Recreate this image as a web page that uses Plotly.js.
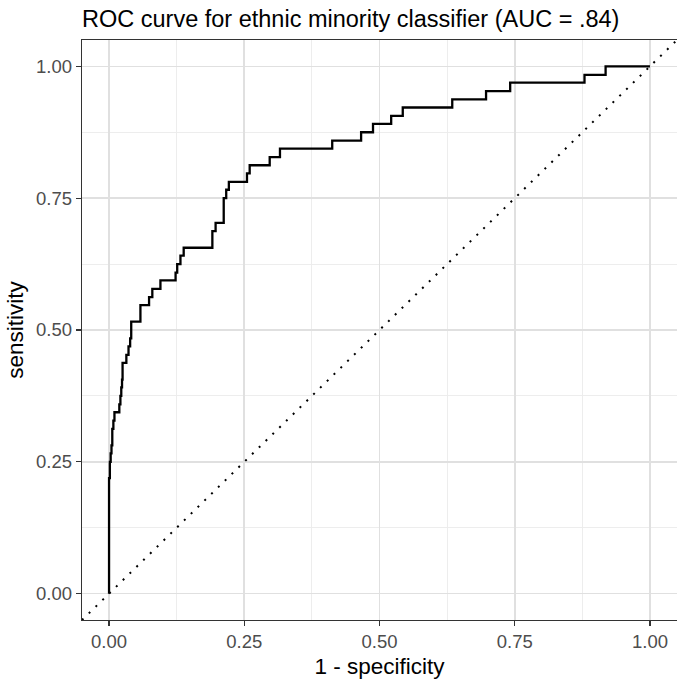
<!DOCTYPE html>
<html>
<head>
<meta charset="utf-8">
<script src="https://cdn.plot.ly/plotly-3.0.1.min.js"></script>
<style>
  html, body { margin: 0; padding: 0; background: #ffffff; }
  #chart { width: 677px; height: 679px; }
</style>
</head>
<body>
<div id="chart"></div>
<script>
// ROC curve points: false positive rate (1 - specificity) and the
// sensitivity reached at that rate; drawn as a step path.
const fpr = [
  0.000, 0.000, 0.0015, 0.003, 0.0045, 0.006, 0.008, 0.010, 0.019, 0.021,
  0.0226, 0.024, 0.025, 0.032, 0.036, 0.039, 0.041, 0.058, 0.074, 0.080,
  0.095, 0.123, 0.126, 0.132, 0.138, 0.191, 0.197, 0.212, 0.2166, 0.2215,
  0.255, 0.260, 0.297, 0.316, 0.4126, 0.466, 0.488, 0.5216, 0.543, 0.6345,
  0.697, 0.7416, 0.879, 0.918, 1.000
];
const sensitivity = [
  0.000, 0.219, 0.250, 0.266, 0.281, 0.3125, 0.328, 0.344, 0.359, 0.375,
  0.391, 0.406, 0.4375, 0.453, 0.469, 0.484, 0.516, 0.547, 0.5625, 0.578,
  0.594, 0.609, 0.625, 0.641, 0.656, 0.6875, 0.703, 0.750, 0.766, 0.781,
  0.797, 0.8125, 0.828, 0.844, 0.859, 0.875, 0.891, 0.906, 0.922, 0.9375,
  0.953, 0.969, 0.984, 1.000, 1.000
];

// Axis range (shared by both axes) and tick labels
const axisRange = [-0.05, 1.05];
const tickValues = [0, 0.25, 0.5, 0.75, 1];
const tickLabels = ["0.00", "0.25", "0.50", "0.75", "1.00"];

const titleText = "ROC curve for ethnic minority classifier (AUC = .84)";
const xTitle = "1 - specificity";
const yTitle = "sensitivity";

const font = "'Liberation Sans', Arial, Helvetica, sans-serif";

const traces = [
  {
    // chance line y = x across the whole panel
    x: axisRange,
    y: axisRange,
    type: "scatter",
    mode: "lines",
    line: { color: "#000000", width: 2, dash: "2px,7.5px" },
    hoverinfo: "skip",
    showlegend: false
  },
  {
    x: fpr,
    y: sensitivity,
    type: "scatter",
    mode: "lines",
    line: { color: "#000000", width: 2.3, shape: "hv" },
    showlegend: false
  }
];

function axis(titleTextValue) {
  return {
    range: axisRange,
    tickmode: "array",
    tickvals: tickValues,
    ticktext: tickLabels,
    ticks: "outside",
    ticklen: 5,
    tickwidth: 1.2,
    tickcolor: "#333333",
    tickfont: { family: font, size: 18.5, color: "#4d4d4d" },
    showgrid: true,
    gridcolor: "#e0e0e0",
    gridwidth: 1.7,
    minor: {
      dtick: 0.125,
      tick0: 0.125,
      showgrid: true,
      gridcolor: "#ebebeb",
      gridwidth: 0.9,
      ticks: ""
    },
    zeroline: false,
    showline: true,
    mirror: true,
    linecolor: "#333333",
    linewidth: 1.2,
    title: { text: titleTextValue, font: { family: font, size: 22.5, color: "#000000" } }
  };
}

const xaxis = axis(xTitle);
xaxis.title.standoff = 6;
const yaxis = axis(yTitle);
yaxis.title.standoff = 6;

const layout = {
  width: 677,
  height: 679,
  margin: { l: 82, r: 0, t: 40, b: 59 },
  paper_bgcolor: "#ffffff",
  plot_bgcolor: "#ffffff",
  title: {
    text: titleText,
    font: { family: font, size: 23.5, color: "#000000" },
    x: 0, xref: "paper", xanchor: "left",
    y: 1 - 19 / 679, yref: "container", yanchor: "middle"
  },
  xaxis: xaxis,
  yaxis: yaxis,
  showlegend: false
};

Plotly.newPlot("chart", traces, layout, { displayModeBar: false, staticPlot: true });
</script>
</body>
</html>
